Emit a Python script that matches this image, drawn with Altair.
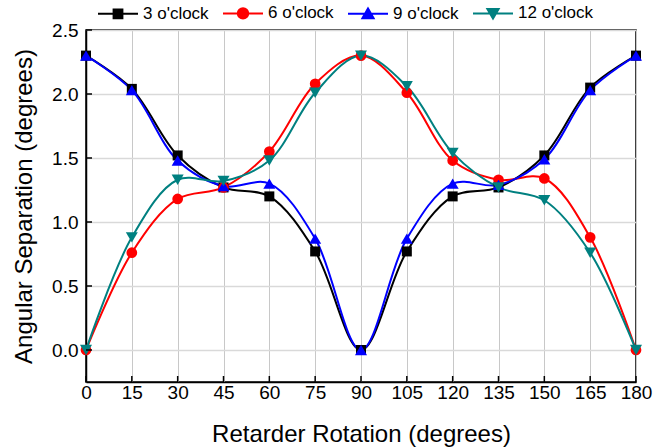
import altair as alt
import pandas as pd

# ---- data ----
rotation = [0, 15, 30, 45, 60, 75, 90, 105, 120, 135, 150, 165, 180]
series_names = ["3 o'clock", "6 o'clock", "9 o'clock", "12 o'clock"]
sep_3 = [2.30, 2.04, 1.52, 1.27, 1.20, 0.77, 0.00, 0.77, 1.20, 1.27, 1.52, 2.05, 2.30]
sep_6 = [0.00, 0.76, 1.18, 1.27, 1.55, 2.08, 2.30, 2.01, 1.48, 1.33, 1.34, 0.88, 0.00]
sep_9 = [2.30, 2.03, 1.48, 1.28, 1.30, 0.87, 0.00, 0.87, 1.30, 1.29, 1.49, 2.03, 2.30]
sep_12 = [0.00, 0.88, 1.33, 1.32, 1.48, 2.01, 2.30, 2.06, 1.54, 1.27, 1.17, 0.76, 0.00]
x_ticks = [0, 15, 30, 45, 60, 75, 90, 105, 120, 135, 150, 165, 180]
y_ticks = [0.0, 0.5, 1.0, 1.5, 2.0, 2.5]

colors = ["#000000", "#ff0000", "#0000ff", "#008080"]
shapes = ["square", "circle", "triangle-up", "triangle-down"]
legend_paths = [
    "M-1,0H1M-0.22,-0.22H0.22V0.22H-0.22Z",
    "M-1,0H1M-0.26,0A0.26,0.26,0,1,0,0.26,0A0.26,0.26,0,1,0,-0.26,0Z",
    "M-1,0H1M0,-0.26L0.28,0.22H-0.28Z",
    "M-1,0H1M0,0.26L0.28,-0.22H-0.28Z",
]

rows = []
for name, vals in zip(series_names, [sep_3, sep_6, sep_9, sep_12]):
    for xv, yv in zip(rotation, vals):
        rows.append({"rotation": xv, "sep": yv, "series": name})
df = pd.DataFrame(rows)

FONT = "Liberation Sans"
W, H = 550, 352

xs = alt.Scale(domain=[0, 180], nice=False, zero=False)
ys = alt.Scale(domain=[-0.25, 2.5], nice=False, zero=False)
cscale = alt.Scale(domain=series_names, range=colors)

x_enc = alt.X(
    "rotation:Q", scale=xs,
    axis=alt.Axis(
        values=x_ticks, title="Retarder Rotation (degrees)", grid=True,
        gridColor="#c8c8c8", gridWidth=1, ticks=False, tickSize=0,
        labelPadding=1, labelFlush=False, labelOverlap=False,
        labelFontSize=19, titleFontSize=24, labelFont=FONT, titleFont=FONT,
        titleFontWeight="normal", labelColor="black", titleColor="black",
        domainColor="black", domainWidth=1.5,
        titleX=W / 2, titleY=59, titleBaseline="alphabetic", titleAlign="center",
    ),
)
y_enc = alt.Y(
    "sep:Q", scale=ys,
    axis=alt.Axis(
        values=y_ticks, format=".1f", title="Angular Separation (degrees)",
        grid=True, gridColor="#d9d9d9", gridWidth=1.5, ticks=False, tickSize=0,
        labelPadding=8, labelFlush=False, labelOverlap=False,
        labelFontSize=19, titleFontSize=24, labelFont=FONT, titleFont=FONT,
        titleFontWeight="normal", labelColor="black", titleColor="black",
        domainColor="black", domainWidth=1.5,
        titleX=-55, titleY=H / 2, titleAngle=-90, titleAlign="center",
        titleBaseline="alphabetic",
    ),
)

base = alt.Chart(df)

lines = base.mark_line(interpolate="catmull-rom", strokeWidth=2).encode(
    x=x_enc, y=y_enc,
    color=alt.Color("series:N", scale=cscale, legend=None),
    detail="series:N",
)

point_layers = []
for name, shp, sz in zip(series_names, shapes, [100, 115, 144, 144]):
    point_layers.append(
        base.transform_filter(alt.datum.series == name)
        .mark_point(filled=True, shape=shp, size=sz, opacity=1)
        .encode(
            x=alt.X("rotation:Q", scale=xs),
            y=alt.Y("sep:Q", scale=ys),
            color=alt.Color("series:N", scale=cscale, legend=None),
        )
    )

leg = alt.Legend(
    title=None, orient="none", legendX=11, legendY=-38, direction="horizontal",
    symbolOpacity=1,
)

# invisible layer whose only purpose is the line+marker legend
legend_layer = (
    base.mark_point(filled=True, opacity=0)
    .encode(
        x=alt.X("rotation:Q", scale=xs),
        y=alt.Y("sep:Q", scale=ys),
        fill=alt.Fill("series:N", scale=alt.Scale(domain=series_names, range=colors), legend=leg),
        stroke=alt.Stroke("series:N", scale=alt.Scale(domain=series_names, range=colors), legend=leg),
        shape=alt.Shape("series:N", scale=alt.Scale(domain=series_names, range=legend_paths), legend=leg),
    )
)

xt = pd.DataFrame({"t": x_ticks})
yt = pd.DataFrame({"t": y_ticks})
x_tick_marks = alt.Chart(xt).mark_rule(color="black", strokeWidth=1.5).encode(
    x=alt.X("t:Q", scale=xs), y=alt.value(H), y2=alt.value(H - 6)
)
y_tick_marks = alt.Chart(yt).mark_rule(color="black", strokeWidth=1.5).encode(
    y=alt.Y("t:Q", scale=ys), x=alt.value(0), x2=alt.value(6)
)

chart = (
    alt.layer(legend_layer, lines, *point_layers, x_tick_marks, y_tick_marks)
    .properties(
        width=W, height=H,
        autosize=alt.AutoSizeParams(type="none"),
        padding={"left": 86, "top": 30, "right": 17, "bottom": 66},
        background="white",
    )
    .configure_view(stroke="black", strokeWidth=1.5)
    .configure_legend(
        labelFont=FONT, labelFontSize=17, labelColor="black", labelOffset=4,
        symbolSize=1600, symbolStrokeWidth=2, columnPadding=10, padding=0,
        labelLimit=200, symbolOpacity=1,
    )
)

chart.save("out.html", embed_options={"renderer": "svg", "actions": False})
